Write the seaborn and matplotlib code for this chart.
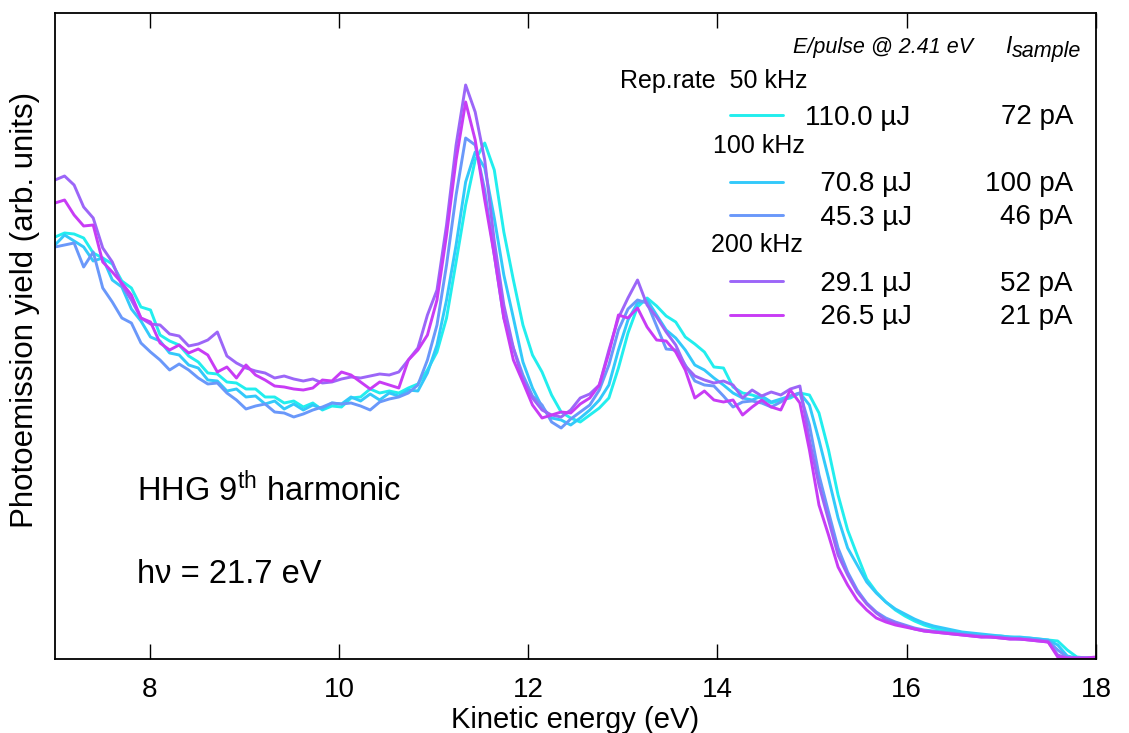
import numpy as np
import pandas as pd
import matplotlib
matplotlib.use("Agg")
import matplotlib.pyplot as plt
import seaborn as sns
from matplotlib.lines import Line2D

# sampling grid of the spectra (eV)
energy = np.linspace(7.0, 18.1, 111)

pulse_labels = ["110.0 µJ", "70.8 µJ", "45.3 µJ", "29.1 µJ", "26.5 µJ"]
currents = ["72 pA", "100 pA", "46 pA", "52 pA", "21 pA"]
rep_rates = ["Rep.rate  50 kHz", "100 kHz", "200 kHz"]
colors = ["#22EEEE", "#33C9FA", "#6A98FA", "#9C66F8", "#C83CF5"]

# photoemission yield, arb. units
yield_110 = [422, 426, 425, 421, 406, 401, 395, 378, 371, 352,
             349, 324, 318, 314, 303, 297, 286, 285, 277, 276,
             270, 270, 262, 262, 256, 258, 252, 256, 249, 253,
             252, 261, 262, 270, 266, 268, 266, 271, 275, 289,
             307, 341, 397, 454, 499, 516, 489, 427, 379, 334,
             304, 287, 264, 247, 241, 237, 244, 251, 261, 291,
             326, 352, 361, 353, 343, 337, 322, 315, 307, 292,
             291, 272, 266, 264, 261, 256, 259, 261, 266, 264,
             246, 209, 164, 129, 104, 80, 67, 57, 49, 43,
             38, 34, 31, 29, 27, 26, 25, 24, 23, 23,
             22, 21, 21, 20, 19, 18, 9, 2, 1, 1,
             1]
yield_70 = [414, 424, 418, 412, 398, 401, 379, 372, 350, 338,
            322, 318, 306, 304, 294, 291, 279, 278, 268, 270,
            262, 263, 255, 258, 250, 255, 249, 254, 250, 256,
            255, 262, 258, 265, 259, 266, 263, 269, 268, 286,
            314, 359, 414, 477, 507, 491, 441, 384, 341, 297,
            271, 252, 241, 239, 234, 241, 249, 259, 274, 309,
            339, 356, 359, 344, 329, 321, 309, 294, 289, 281,
            274, 266, 261, 259, 263, 257, 260, 263, 266, 254,
            219, 181, 141, 111, 94, 77, 66, 57, 50, 45,
            40, 36, 33, 31, 29, 27, 26, 25, 24, 23,
            22, 22, 21, 20, 19, 14, 3, 1, 1, 1,
            1]
yield_45 = [412, 414, 416, 392, 407, 371, 357, 341, 336, 316,
            307, 299, 289, 295, 289, 281, 275, 276, 266, 259,
            250, 253, 255, 247, 246, 242, 245, 249, 252, 256,
            255, 256, 253, 249, 257, 260, 262, 266, 274, 299,
            334, 394, 464, 521, 514, 469, 404, 341, 311, 284,
            263, 254, 237, 231, 240, 247, 254, 269, 294, 329,
            350, 359, 356, 333, 310, 309, 294, 278, 274, 273,
            263, 252, 257, 258, 256, 252, 257, 263, 266, 234,
            184, 147, 111, 87, 69, 56, 47, 41, 37, 34,
            31, 29, 28, 27, 26, 25, 24, 23, 22, 22,
            21, 20, 20, 19, 18, 9, 2, 1, 1, 1,
            1]
yield_29 = [479, 483, 474, 452, 441, 411, 397, 374, 359, 341,
            335, 334, 325, 323, 313, 315, 319, 327, 303, 296,
            291, 288, 286, 281, 283, 280, 278, 280, 276, 277,
            280, 282, 281, 283, 285, 284, 287, 299, 311, 344,
            369, 434, 514, 574, 547, 499, 418, 354, 311, 279,
            261, 249, 244, 242, 249, 261, 265, 274, 309, 341,
            361, 379, 354, 342, 327, 314, 293, 283, 279, 276,
            278, 274, 261, 269, 263, 267, 264, 270, 273, 219,
            174, 139, 104, 84, 67, 55, 46, 39, 36, 33,
            30, 28, 27, 26, 25, 24, 23, 22, 22, 21,
            20, 20, 19, 18, 17, 4, 1, 1, 1, 1,
            1]
yield_26 = [456, 459, 444, 433, 434, 397, 387, 376, 364, 341,
            337, 316, 309, 314, 306, 310, 304, 287, 292, 281,
            294, 284, 279, 273, 272, 270, 269, 271, 279, 278,
            287, 284, 277, 270, 277, 274, 271, 299, 309, 324,
            359, 424, 499, 557, 519, 459, 404, 341, 299, 277,
            254, 241, 244, 247, 246, 255, 261, 274, 306, 344,
            341, 351, 332, 319, 318, 307, 289, 261, 268, 259,
            257, 259, 244, 252, 259, 252, 249, 269, 256, 209,
            154, 124, 92, 74, 59, 49, 41, 37, 34, 32,
            30, 28, 27, 26, 25, 24, 23, 22, 22, 21,
            20, 20, 19, 18, 17, 2, 1, 1, 1, 2,
            1]

series = [yield_110, yield_70, yield_45, yield_29, yield_26]
df = pd.concat([pd.DataFrame({"energy": energy, "yield": s, "pulse": lab})
                for s, lab in zip(series, pulse_labels)], ignore_index=True)

sns.set_style("white")
plt.rcParams["font.family"] = ["Liberation Sans", "DejaVu Sans"]
plt.rcParams["mathtext.fontset"] = "custom"
plt.rcParams["mathtext.rm"] = "Liberation Sans"
plt.rcParams["mathtext.it"] = "Liberation Sans:italic"
plt.rcParams["text.color"] = "black"
plt.rcParams["axes.labelcolor"] = "black"
plt.rcParams["xtick.color"] = "black"

W, H = 1129, 733
fig = plt.figure(figsize=(W / 100, H / 100), dpi=100)
ax = fig.add_axes([55 / W, 1 - 659 / H, (1096 - 55) / W, (659 - 13) / H])

sns.lineplot(data=df, x="energy", y="yield", hue="pulse", hue_order=pulse_labels,
             palette=dict(zip(pulse_labels, colors)), estimator=None, sort=False,
             linewidth=2.1, ax=ax)

ax.set_xlim(7, 18)
ax.set_ylim(0, 646)
ax.set_xticks([8, 10, 12, 14, 16, 18])
ax.set_yticks([])
ax.tick_params(axis="x", direction="in", length=11, width=1, top=True, bottom=True,
               labelsize=20, pad=13, color="black", labelcolor="black")
for sp in ax.spines.values():
    sp.set_color("black")
    sp.set_linewidth(1.3)
ax.set_xlabel("Kinetic energy (eV)", fontsize=21, labelpad=2)
ax.set_ylabel("Photoemission yield (arb. units)", fontsize=22.5)
ax.yaxis.set_label_coords(-0.014, 0.54)

# legend: line handles with pulse energies, header rows left blank
handles, labels = ax.get_legend_handles_labels()
hmap = dict(zip(labels, handles))
blank = Line2D([], [], color="none")
fs = "\u2007"
rows_h = [hmap[pulse_labels[0]], blank, hmap[pulse_labels[1]], hmap[pulse_labels[2]],
          blank, hmap[pulse_labels[3]], hmap[pulse_labels[4]]]
rows_l = [pulse_labels[0], " ", fs + pulse_labels[1], fs + pulse_labels[2],
          " ", fs + pulse_labels[3], fs + pulse_labels[4]]
ax.legend(rows_h, rows_l, loc="upper left", bbox_to_anchor=(730 / W, 1 - 105 / H),
          bbox_transform=fig.transFigure, frameon=False, fontsize=20,
          handlelength=1.9, handletextpad=0.8, labelspacing=0.26,
          borderpad=0, borderaxespad=0)

# column headers and right-hand column
fig.text(793 / W, 1 - 53 / H, "E/pulse @ 2.41 eV", style="italic", fontsize=15.5, va="baseline")
fig.text(1005 / W, 1 - 53 / H, "I", style="italic", fontsize=16.5, va="baseline")
fig.text(1012 / W, 1 - 57 / H, "sample", style="italic", fontsize=15.5, va="baseline")
for txt, (x, yb) in zip(rep_rates, [(620, 88), (713, 153), (711, 252)]):
    fig.text(x / W, 1 - yb / H, txt, fontsize=18, va="baseline")
for txt, yb in zip(currents, [124, 191, 224, 291, 324]):
    fig.text(1073 / W, 1 - yb / H, txt, fontsize=20, ha="right", va="baseline")

fig.text(137 / W, 1 - 501 / H, r"HHG 9$^{\mathrm{th}}$ harmonic", fontsize=23.5, va="baseline")
fig.text(137 / W, 1 - 583 / H, "h\u03bd = 21.7 eV", fontsize=23.5, va="baseline")

fig.savefig("out.png", dpi=100)
